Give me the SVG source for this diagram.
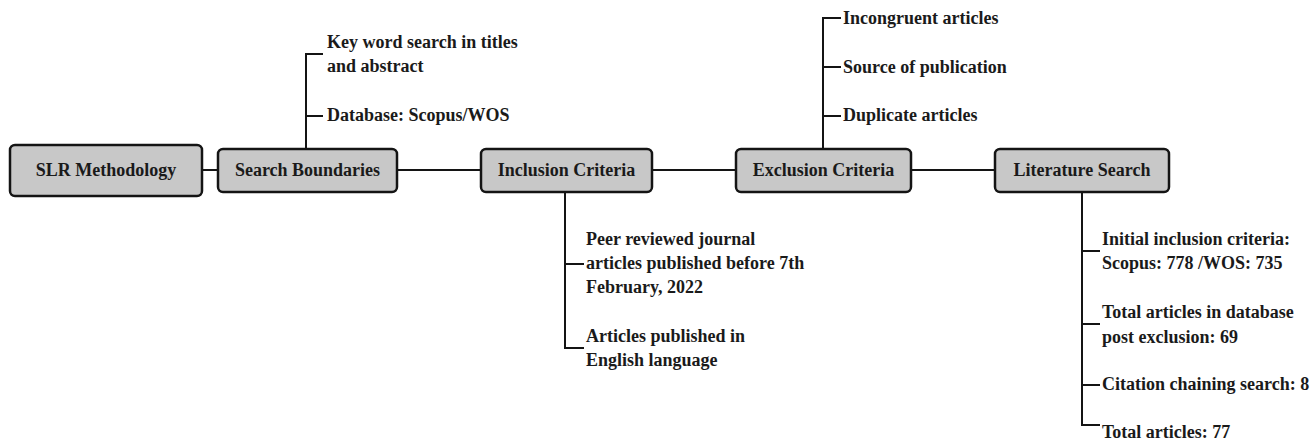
<svg xmlns="http://www.w3.org/2000/svg" width="1312" height="441" viewBox="0 0 1312 441">
<style>
.box{fill:#c8c8c8;stroke:#141414;stroke-width:2.5}
.t{font-family:"Liberation Serif","Times New Roman",serif;font-weight:bold;font-size:18px;fill:#1a1a1a}
.c{text-anchor:middle}
.ln{fill:none;stroke:#141414;stroke-width:2}
</style>
<rect width="1312" height="441" fill="#ffffff"/>
<g id="connectors">
<path class="ln" d="M202 170H218M397 170H481M652 170H736M911 170H995"/>
<path class="ln" d="M306 149V54H323M306 116H323"/>
<path class="ln" d="M823 149V18H841M823 67H841M823 116H841"/>
<path class="ln" d="M565 192V348H584M565 264H584"/>
<path class="ln" d="M1082 192V425H1100M1082 251H1100M1082 324H1100M1082 385H1100"/>
</g>
<g id="slr">
<rect class="box" x="10" y="145" width="192" height="51" rx="5"/>
<text class="t c" x="106" y="176">SLR Methodology</text>
</g>
<g id="search-boundaries">
<rect class="box" x="218" y="149" width="179" height="43" rx="5"/>
<text class="t c" x="307.5" y="176">Search Boundaries</text>
</g>
<g id="inclusion">
<rect class="box" x="481" y="149" width="171" height="43" rx="5"/>
<text class="t c" x="566.5" y="176">Inclusion Criteria</text>
</g>
<g id="exclusion">
<rect class="box" x="736" y="149" width="175" height="43" rx="5"/>
<text class="t c" x="823.5" y="176">Exclusion Criteria</text>
</g>
<g id="literature">
<rect class="box" x="995" y="149" width="174" height="43" rx="5"/>
<text class="t c" x="1082" y="176">Literature Search</text>
</g>
<g id="sb-items">
<text class="t" x="327" y="48">Key word search in titles</text>
<text class="t" x="327" y="72">and abstract</text>
<text class="t" x="327" y="121">Database: Scopus/WOS</text>
</g>
<g id="ex-items">
<text class="t" x="843" y="24">Incongruent articles</text>
<text class="t" x="843" y="73">Source of publication</text>
<text class="t" x="843" y="121">Duplicate articles</text>
</g>
<g id="in-items">
<text class="t" x="586" y="245">Peer reviewed journal</text>
<text class="t" x="586" y="269">articles published before 7th</text>
<text class="t" x="586" y="293">February, 2022</text>
<text class="t" x="586" y="342">Articles published in</text>
<text class="t" x="586" y="366">English language</text>
</g>
<g id="lit-items">
<text class="t" x="1102" y="245">Initial inclusion criteria:</text>
<text class="t" x="1102" y="269">Scopus: 778 /WOS: 735</text>
<text class="t" x="1102" y="318">Total articles in database</text>
<text class="t" x="1102" y="343">post exclusion: 69</text>
<text class="t" x="1102" y="390">Citation chaining search: 8</text>
<text class="t" x="1102" y="438">Total articles: 77</text>
</g>
</svg>
